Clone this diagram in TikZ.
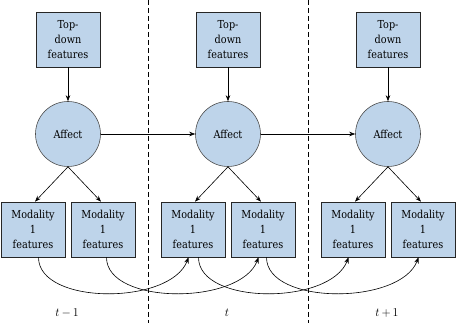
\documentclass[tikz,border=0pt]{standalone}
\usepackage{fontspec}
\setmainfont{DejaVu Serif}[FakeStretch=0.88]
\usetikzlibrary{arrows.meta}
\definecolor{boxblue}{RGB}{190,212,234}
\begin{document}
\begin{tikzpicture}[x=1pt,y=-1pt,
  every node/.style={font=\fontsize{11}{15}\selectfont},
  feat/.style={draw=black!85, fill=boxblue, line width=0.7pt, minimum width=64pt,
    minimum height=55pt, inner sep=0pt, align=center},
  affect/.style={draw=black!70, fill=boxblue, line width=0.6pt, circle,
    minimum size=65pt, inner sep=0pt},
  link/.style={-{Stealth[length=6pt,width=4.5pt]}, line width=0.6pt},
  slice/.style={dashed, dash pattern=on 5pt off 3pt, line width=0.6pt},
  timelbl/.style={font=\fontsize{12}{14}\selectfont}]
\useasboundingbox (0,0) rectangle (456,323);

% time-slice separators
\draw[slice] (148,0) coordinate (s1a) -- (148,323) coordinate (s1b);
\draw[slice] (308,0) coordinate (s2a) -- (308,323) coordinate (s2b);

% three time slices
\foreach \i/\cx in {1/68,2/228,3/388}{
  \node[feat] (top\i) at (\cx,39.5) {Top-\\down\\features};
  \node[affect] (aff\i) at (\cx,134) {Affect};
  \node[feat] (ma\i) at (\cx-35,229.5) {Modality\\1\\features};
  \node[feat] (mb\i) at (\cx+35,229.5) {Modality\\1\\features};
  \draw[link] (top\i) -- (aff\i);
  \draw[link] (aff\i.south) -- ([xshift=2pt]ma\i.north);
  \draw[link] (aff\i.south) -- ([xshift=-2pt]mb\i.north);
}

% affect carried forward in time
\draw[link] (aff1) -- (aff2);
\draw[link] (aff2) -- (aff3);

% modality features feeding the next slice
\foreach \i/\j in {1/2,2/3}{
  \draw[link] ([xshift=5.5pt]ma\i.south) .. controls +(0,48) and +(-18,48) .. ([xshift=-4.5pt]ma\j.south);
  \draw[link] ([xshift=3.5pt]mb\i.south) .. controls +(0,48) and +(-18,48) .. ([xshift=-4.5pt]mb\j.south);
}

% time labels
\node[timelbl] (t0) at (67,313) {$t\,{-}\,1$};
\node[timelbl] (t1) at (227,313) {$t$};
\node[timelbl] (t2) at (387,313) {$t\,{+}\,1$};
\end{tikzpicture}
\end{document}
